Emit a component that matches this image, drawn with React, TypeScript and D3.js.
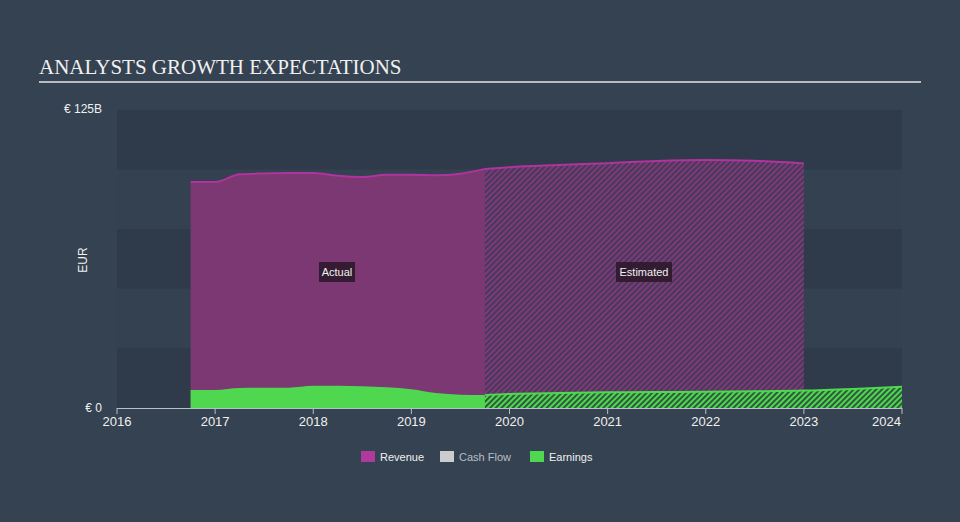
import React from "react";
import * as d3 from "d3";

const revenueActualX = [2016.75, 2017.0, 2017.25, 2017.5, 2017.75, 2018.0, 2018.25, 2018.5, 2018.75, 2019.0, 2019.25, 2019.5, 2019.75];
const revenueActualY = [94.8, 94.8, 98.0, 98.4, 98.6, 98.6, 97.4, 96.9, 97.8, 97.8, 97.6, 98.3, 100.3];
const revenueEstX = [2019.75, 2020.0, 2020.5, 2021.0, 2021.5, 2022.0, 2022.5, 2023.0];
const revenueEstY = [100.3, 101.0, 101.9, 102.7, 103.6, 104.0, 103.7, 102.6];
const earningsActualX = [2016.75, 2017.0, 2017.25, 2017.5, 2017.75, 2018.0, 2018.25, 2018.5, 2018.75, 2019.0, 2019.25, 2019.5, 2019.75];
const earningsActualY = [7.6, 7.6, 8.4, 8.5, 8.5, 9.3, 9.3, 9.1, 8.7, 7.9, 6.3, 5.6, 5.5];
const earningsEstX = [2019.75, 2020.0, 2020.5, 2021.0, 2021.5, 2022.0, 2022.5, 2023.0, 2023.5, 2024.0];
const earningsEstY = [5.5, 5.9, 6.3, 6.6, 6.7, 6.8, 7.0, 7.3, 8.0, 8.9];
const xTicks = [2016, 2017, 2018, 2019, 2020, 2021, 2022, 2023, 2024];
const legendItems = ["Revenue", "Cash Flow", "Earnings"];
const legendColors = ["#b0399e", "#cccccc", "#4fd84f"];

const W = 960, H = 522;
const x = d3.scaleLinear().domain([2016, 2024]).range([117, 902]);
const y = d3.scaleLinear().domain([0, 125]).range([408, 110]);

function pts(xs: number[], ys: number[]) {
  return xs.map((v, i) => [v, ys[i]] as [number, number]);
}

const area = d3.area<[number, number]>().x(d => x(d[0])).y0(y(0)).y1(d => y(d[1])).curve(d3.curveMonotoneX);
const line = d3.line<[number, number]>().x(d => x(d[0])).y(d => y(d[1])).curve(d3.curveMonotoneX);

export default function App() {
  const bands = d3.range(5).map(i => i);
  const font = "'Liberation Sans', Arial, sans-serif";
  const txt = "#f0f0f0";
  return (
    <svg width={W} height={H} style={{ position: "absolute", left: 0, top: 0, display: "block" }}>
      <defs>
        <pattern id="hatchRev" patternUnits="userSpaceOnUse" width="4" height="4" patternTransform="rotate(45)">
          <rect width="4" height="4" fill="#47395a" />
          <rect width="2" height="4" fill="#7e3a78" />
        </pattern>
        <pattern id="hatchEarn" patternUnits="userSpaceOnUse" width="4" height="4" patternTransform="rotate(45)">
          <rect width="4" height="4" fill="#2f5a3e" />
          <rect width="2" height="4" fill="#4fd84f" />
        </pattern>
      </defs>
      <rect width={W} height={H} fill="#354251" />
      {bands.map(i => (
        <rect key={i} x={117} width={785} y={y(125 - i * 25)} height={y(0) - y(25)}
          fill={i % 2 === 0 ? "#2f3b4a" : "#344150"} />
      ))}
      <text x={39} y={74} fill={txt} fontFamily="'Liberation Serif', 'Times New Roman', serif" fontSize={21}>ANALYSTS GROWTH EXPECTATIONS</text>
      <line x1={39} x2={921} y1={82} y2={82} stroke="#b8bcc2" strokeWidth={2} />

      <path d={area(pts(revenueActualX, revenueActualY)) || ""} fill="#7b3873" />
      <path d={area(pts(revenueEstX, revenueEstY)) || ""} fill="url(#hatchRev)" />
      <path d={line(pts(revenueActualX, revenueActualY)) || ""} fill="none" stroke="#b0339e" strokeWidth={2} />
      <path d={line(pts(revenueEstX, revenueEstY)) || ""} fill="none" stroke="#b0339e" strokeWidth={2} />

      <path d={area(pts(earningsActualX, earningsActualY)) || ""} fill="#4fd84f" />
      <path d={area(pts(earningsEstX, earningsEstY)) || ""} fill="url(#hatchEarn)" />
      <path d={line(pts(earningsEstX, earningsEstY)) || ""} fill="none" stroke="#4fd84f" strokeWidth={2} />

      <g>
        <rect x={319} y={262} width={36} height={20} fill="#2d1a2b" opacity={0.9} />
        <text x={337} y={275.5} textAnchor="middle" fill={txt} fontFamily={font} fontSize={11}>Actual</text>
        <rect x={616} y={262} width={56} height={20} fill="#2d1a2b" opacity={0.9} />
        <text x={644} y={275.5} textAnchor="middle" fill={txt} fontFamily={font} fontSize={11}>Estimated</text>
      </g>

      <line x1={117} x2={902} y1={408.5} y2={408.5} stroke="#b8bec8" strokeWidth={1} />
      {xTicks.map((t, i) => (
        <g key={t}>
          <line x1={x(t)} x2={x(t)} y1={408} y2={414} stroke="#b8bec8" strokeWidth={1} />
          <text x={i === xTicks.length - 1 ? x(t) - 1 : x(t)} y={426} textAnchor={i === xTicks.length - 1 ? "end" : "middle"}
            fill={txt} fontFamily={font} fontSize={13}>{t}</text>
        </g>
      ))}
      <text x={102} y={113} textAnchor="end" fill={txt} fontFamily={font} fontSize={12}>€ 125B</text>
      <text x={102} y={412} textAnchor="end" fill={txt} fontFamily={font} fontSize={12}>€ 0</text>
      <text transform="translate(87,260) rotate(-90)" textAnchor="middle" fill={txt} fontFamily={font} fontSize={12}>EUR</text>

      {legendItems.map((name, i) => {
        const lx = [361, 440, 530][i];
        return (
          <g key={name}>
            <rect x={lx} y={451} width={14} height={11} fill={legendColors[i]} />
            <text x={lx + 19} y={460.5} fill={i === 1 ? "#b9bec6" : txt} fontFamily={font} fontSize={11}>{name}</text>
          </g>
        );
      })}
    </svg>
  );
}
